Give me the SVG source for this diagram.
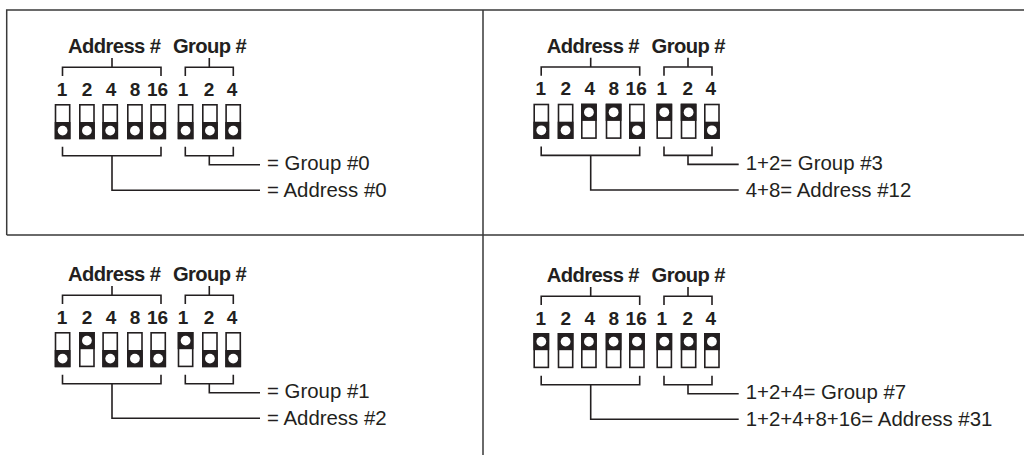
<svg xmlns="http://www.w3.org/2000/svg" width="1024" height="455" viewBox="0 0 1024 455">
<style>
text{font-family:"Liberation Sans",Arial,sans-serif;fill:#231f20}
.h{font-size:20.200px;font-weight:bold;letter-spacing:-.6px;text-anchor:middle}
.n{font-size:19px;font-weight:bold;text-anchor:middle}
.l{font-size:20.400px}
.c{fill:none;stroke:#231f20;stroke-width:1.6}
.f{fill:none;stroke:#3a3a3a;stroke-width:1.5}
</style>
<defs>
<g id="dn"><rect x=".8" y=".8" width="14.2" height="33.6" fill="#fff" stroke="#231f20" stroke-width="1.6"/><rect y="18" width="15.8" height="17.2" fill="#231f20"/><circle cx="7.9" cy="26.6" r="4.9" fill="#fff"/></g>
<g id="up"><rect x=".8" y=".8" width="14.2" height="33.6" fill="#fff" stroke="#231f20" stroke-width="1.6"/><rect width="15.8" height="17.2" fill="#231f20"/><circle cx="7.9" cy="8.6" r="4.9" fill="#fff"/></g>
<g id="hdr">
<text class="h" x="114.200" y="53">Address #</text><text class="h" x="209.500" y="53">Group #</text>
<text class="n" x="62" y="95.500">1</text><text class="n" x="87" y="95.500">2</text><text class="n" x="111" y="95.500">4</text><text class="n" x="135" y="95.500">8</text><text class="n" x="157.500" y="95.500">16</text><text class="n" x="183" y="95.500">1</text><text class="n" x="209" y="95.500">2</text><text class="n" x="232" y="95.500">4</text>
</g>
<path id="br" d="M62.500 76V67.300H161V76M112 67.300V58M185.300 76V67.300H233.300V76M209.300 67.300V58"/>
<path id="bb" d="M62.500 146.700V155.700H161V146.700M112 155.700V190.300H260M185.300 146.700V155.700H233.300V146.700M209.300 155.700V164.700H260"/>
</defs>
<g id="frame" class="f"><path d="M1024 10H6.700V235M6.700 235H1024M483 10V455"/></g>
<g id="panel-a0">
<use href="#hdr"/>
<g id="a0-sw">
<use href="#dn" x="54.700" y="104"/><use href="#dn" x="79" y="104"/><use href="#dn" x="102.300" y="104"/><use href="#dn" x="127" y="104"/><use href="#dn" x="150.300" y="104"/><use href="#dn" x="177.700" y="104"/><use href="#dn" x="202" y="104"/><use href="#dn" x="225.300" y="104"/>
</g>
<text class="l" x="267" y="170">= Group #0</text><text class="l" x="267" y="197">= Address #0</text>
</g>
<g id="panel-b" transform="translate(478.700 -.3)">
<use href="#hdr"/>
<g id="b-sw">
<use href="#dn" x="54.700" y="104"/><use href="#dn" x="79" y="104"/><use href="#up" x="102.300" y="104"/><use href="#up" x="127" y="104"/><use href="#dn" x="150.300" y="104"/><use href="#up" x="177.700" y="104"/><use href="#up" x="202" y="104"/><use href="#dn" x="225.300" y="104"/>
</g>
<text class="l" x="267" y="170">1+2= Group #3</text><text class="l" x="267" y="197">4+8= Address #12</text>
</g>
<g id="panel-c" transform="translate(0 228)">
<use href="#hdr"/>
<g id="c-sw">
<use href="#dn" x="54.700" y="104"/><use href="#up" x="79" y="104"/><use href="#dn" x="102.300" y="104"/><use href="#dn" x="127" y="104"/><use href="#dn" x="150.300" y="104"/><use href="#up" x="177.700" y="104"/><use href="#dn" x="202" y="104"/><use href="#dn" x="225.300" y="104"/>
</g>
<text class="l" x="267" y="170">= Group #1</text><text class="l" x="267" y="197">= Address #2</text>
</g>
<g id="panel-d" transform="translate(478.700 229)">
<use href="#hdr"/>
<g id="d-sw">
<use href="#up" x="54.700" y="104"/><use href="#up" x="79" y="104"/><use href="#up" x="102.300" y="104"/><use href="#up" x="127" y="104"/><use href="#up" x="150.300" y="104"/><use href="#up" x="177.700" y="104"/><use href="#up" x="202" y="104"/><use href="#up" x="225.300" y="104"/>
</g>
<text class="l" x="267" y="170">1+2+4= Group #7</text><text class="l" x="267" y="197">1+2+4+8+16= Address #31</text>
</g>
<g id="connectors" class="c">
<g><use href="#br"/><use href="#bb"/></g>
<g transform="translate(478.700 -.3)"><use href="#br"/><use href="#bb"/></g>
<g transform="translate(0 228)"><use href="#br"/><use href="#bb"/></g>
<g transform="translate(478.700 229)"><use href="#br"/><use href="#bb"/></g>
</g>
</svg>
